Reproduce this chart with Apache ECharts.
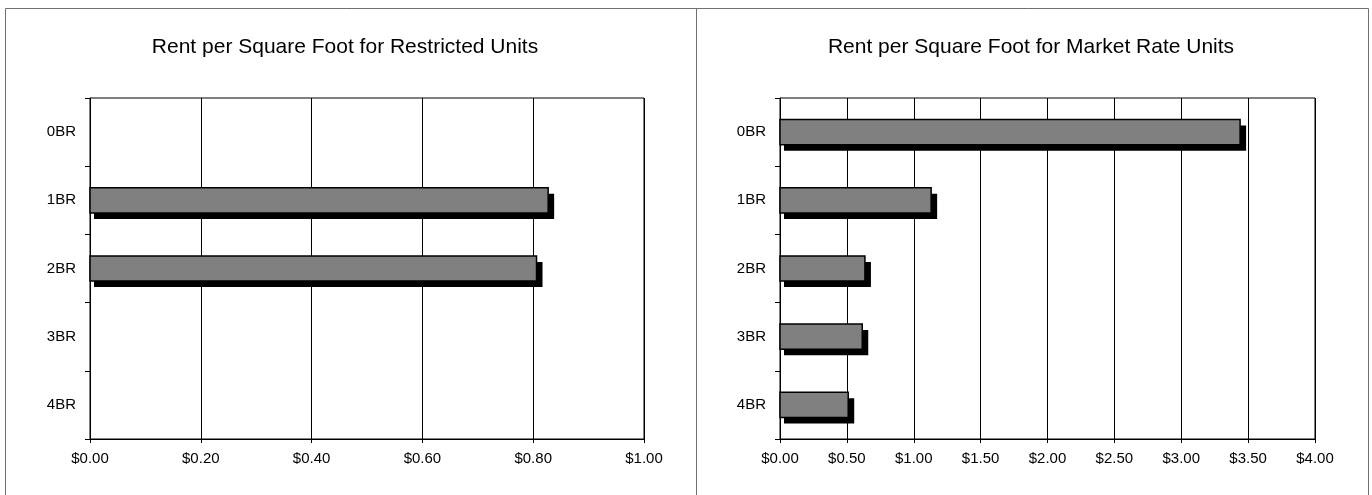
<!DOCTYPE html>
<html>
<head>
<meta charset="utf-8">
<script src="https://cdn.jsdelivr.net/npm/echarts@6/dist/echarts.min.js"></script>
<style>
  html, body { margin: 0; padding: 0; background: #fff; }
  #chart { width: 1372px; height: 495px; }
</style>
</head>
<body>
<div id="chart"></div>
<script>
// ---- Data ----
const categories = ['0BR', '1BR', '2BR', '3BR', '4BR'];
const restrictedValues = [null, 0.827, 0.806, null, null];
const marketValues = [3.44, 1.13, 0.635, 0.615, 0.51];
const restrictedTickLabels = ['$0.00', '$0.20', '$0.40', '$0.60', '$0.80', '$1.00'];
const marketTickLabels = ['$0.00', '$0.50', '$1.00', '$1.50', '$2.00', '$2.50', '$3.00', '$3.50', '$4.00'];
const restrictedTitle = 'Rent per Square Foot for Restricted Units';
const marketTitle = 'Rent per Square Foot for Market Rate Units';

const FONT = 'Liberation Sans, Arial, sans-serif';
const chart = echarts.init(document.getElementById('chart'), null, { renderer: 'canvas' });

function xAxisCfg(gridIndex, max, interval, labels) {
  return {
    type: 'value', gridIndex: gridIndex, min: 0, max: max, interval: interval,
    axisLine: { show: true, lineStyle: { color: '#000', width: 1 } },
    axisTick: { show: true, length: 4, lineStyle: { color: '#000' } },
    axisLabel: {
      margin: 12, color: '#000', fontSize: 15, fontFamily: FONT,
      formatter: function (v) { return labels[Math.round(v / interval)]; }
    },
    splitLine: { show: true, lineStyle: { color: '#000', width: 1 } }
  };
}
function yAxisCfg(gridIndex) {
  return {
    type: 'category', gridIndex: gridIndex, data: categories, inverse: true,
    axisLine: { show: true, lineStyle: { color: '#000', width: 1 } },
    axisTick: { show: true, length: 5, lineStyle: { color: '#000' } },
    axisLabel: { margin: 14, color: '#000', fontSize: 15, fontFamily: FONT },
    splitLine: { show: false }
  };
}

// Bar with an offset drop shadow, positioned through the axes' scales
function renderShadowBar(params, api) {
  const v = api.value(0);
  if (v == null || isNaN(v)) return null;
  const cat = api.value(1);
  const start = api.coord([0, cat]);
  const end = api.coord([v, cat]);
  const band = api.size([0, 1])[1];
  const h = band * 0.37;
  const x0 = start[0], x1 = end[0], yc = start[1];
  return {
    type: 'group',
    children: [
      { type: 'rect', shape: { x: x0 + 4, y: yc - h / 2 + 6, width: (x1 - x0) + 2, height: h },
        style: { fill: '#000' } },
      { type: 'rect', shape: { x: x0, y: yc - h / 2, width: x1 - x0, height: h },
        style: { fill: '#808080', stroke: '#000', lineWidth: 1.5 } }
    ]
  };
}
function toData(values) {
  return values.map(function (v, i) { return [v == null ? NaN : v, i]; });
}

const option = {
  animation: false,
  backgroundColor: '#fff',
  title: [
    { text: restrictedTitle, left: 345, top: 37, textAlign: 'center', padding: 0,
      textStyle: { fontSize: 21, fontWeight: 'normal', color: '#000', fontFamily: FONT } },
    { text: marketTitle, left: 1031, top: 37, textAlign: 'center', padding: 0,
      textStyle: { fontSize: 21, fontWeight: 'normal', color: '#000', fontFamily: FONT } }
  ],
  grid: [
    { left: 90, top: 98, width: 554, height: 341, show: true, borderColor: '#000', borderWidth: 1, containLabel: false },
    { left: 780, top: 98, width: 535, height: 341, show: true, borderColor: '#000', borderWidth: 1, containLabel: false }
  ],
  xAxis: [
    xAxisCfg(0, 1, 0.2, restrictedTickLabels),
    xAxisCfg(1, 4, 0.5, marketTickLabels)
  ],
  yAxis: [yAxisCfg(0), yAxisCfg(1)],
  series: [
    { type: 'custom', xAxisIndex: 0, yAxisIndex: 0, data: toData(restrictedValues),
      encode: { x: 0, y: 1 }, renderItem: renderShadowBar, silent: true, clip: false },
    { type: 'custom', xAxisIndex: 1, yAxisIndex: 1, data: toData(marketValues),
      encode: { x: 0, y: 1 }, renderItem: renderShadowBar, silent: true, clip: false }
  ],
  graphic: [
    { type: 'polyline', silent: true, shape: { points: [[5.5, 495], [5.5, 8.5], [1368.5, 8.5], [1368.5, 495]] },
      style: { stroke: '#707070', lineWidth: 1, fill: null } },
    { type: 'line', silent: true, shape: { x1: 696.5, y1: 8.5, x2: 696.5, y2: 495 },
      style: { stroke: '#707070', lineWidth: 1 } }
  ]
};
chart.setOption(option);
</script>
</body>
</html>
